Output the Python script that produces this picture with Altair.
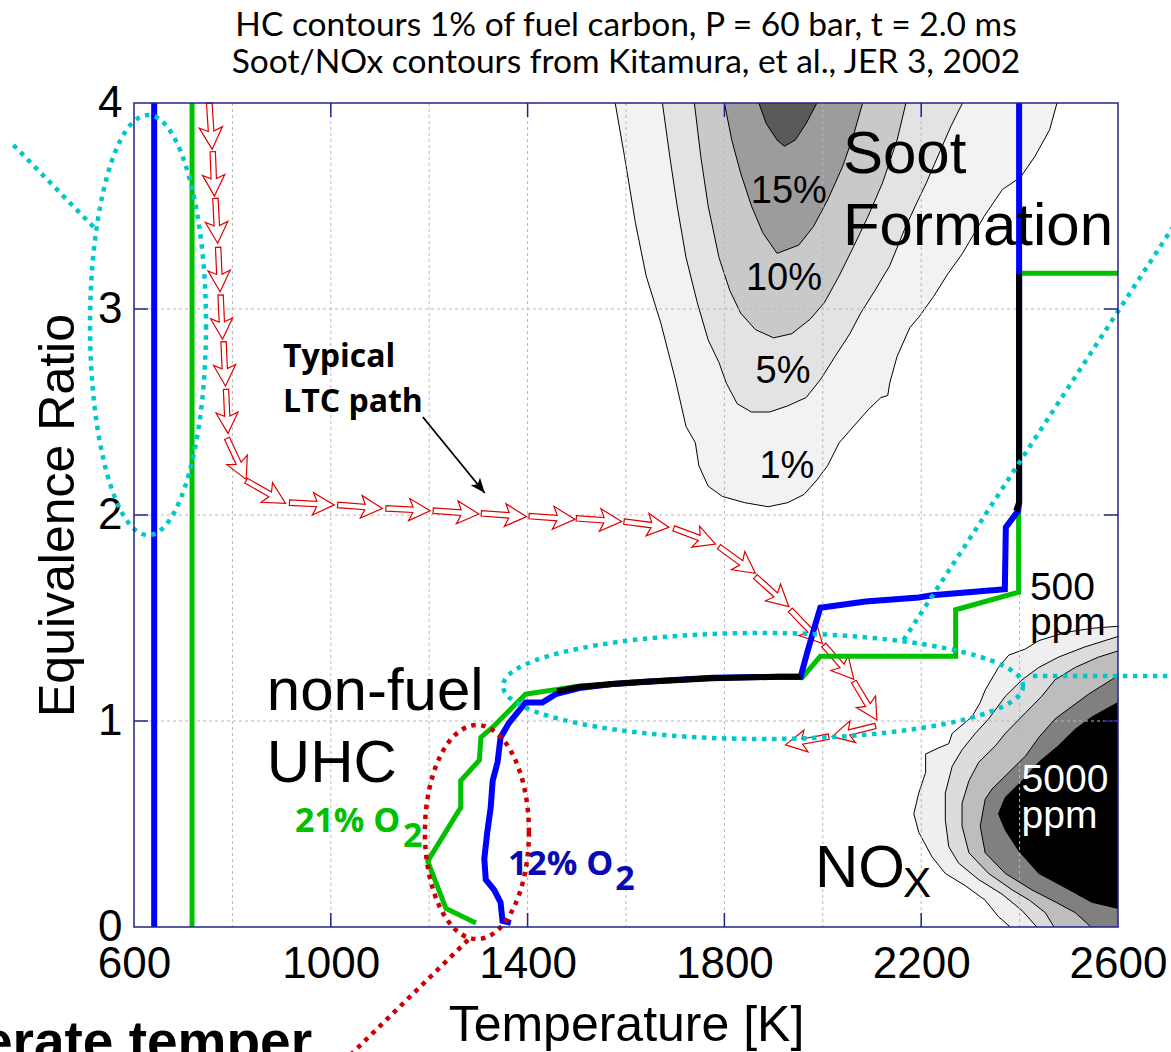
import math
import altair as alt
import pandas as pd

# ---------------- plot geometry ----------------
W, H = 984, 824
T_MIN, T_MAX = 600, 2600
PHI_MIN, PHI_MAX = 0, 4
KX = W / (T_MAX - T_MIN)      # px per K
KY = H / (PHI_MAX - PHI_MIN)  # px per unit phi

# ---------------- texts / ticks ----------------
title_lines = ["HC contours 1% of fuel carbon, P = 60 bar, t = 2.0 ms",
               "Soot/NOx contours from Kitamura, et al., JER 3, 2002"]
x_label_values = [600, 1000, 1400, 1800, 2200, 2600]
y_label_values = [0, 1, 2, 3, 4]
x_grid_values = [800, 1000, 1200, 1400, 1600, 1800, 2000, 2200, 2400]
y_grid_values = [1, 2, 3]
x_tick_values = [1000, 1400, 1800, 2200]
y_tick_values = [1, 2, 3]

# ---------------- soot contours (lower boundary, hanging from phi = 4) ----------------
soot1_T = [1578, 1597, 1619, 1641, 1671, 1700, 1722, 1741, 1748, 1767, 1796, 1841, 1889, 1929, 1962,
           1988, 2010, 2033, 2055, 2092, 2118, 2132, 2136, 2151, 2177, 2195, 2225, 2254, 2284, 2328,
           2365, 2402, 2431, 2461, 2476]
soot1_phi = [4.0, 3.74, 3.42, 3.16, 2.93, 2.66, 2.43, 2.35, 2.24, 2.14, 2.09, 2.06, 2.04, 2.06, 2.10,
             2.17, 2.24, 2.35, 2.41, 2.51, 2.57, 2.58, 2.64, 2.77, 2.91, 2.96, 3.06, 3.17, 3.27, 3.45,
             3.58, 3.64, 3.74, 3.87, 4.0]
soot5_T = [1674, 1689, 1704, 1722, 1745, 1767, 1789, 1804, 1826, 1855, 1892, 1929, 1966, 1996, 2025,
           2055, 2077, 2106, 2136, 2165, 2188, 2210, 2239, 2261, 2284]
soot5_phi = [4.0, 3.74, 3.50, 3.25, 3.03, 2.85, 2.74, 2.64, 2.54, 2.50, 2.50, 2.53, 2.57, 2.66, 2.77,
             2.88, 2.98, 3.09, 3.21, 3.38, 3.50, 3.61, 3.77, 3.89, 4.0]
soot10_T = [1739, 1752, 1767, 1789, 1811, 1833, 1863, 1900, 1937, 1974, 2003, 2033, 2062, 2092, 2121, 2151, 2169]
soot10_phi = [4.0, 3.74, 3.50, 3.25, 3.09, 2.98, 2.90, 2.86, 2.88, 2.95, 3.03, 3.16, 3.30, 3.45, 3.61, 3.82, 4.0]
soot15_T = [1800, 1815, 1833, 1855, 1878, 1907, 1951, 1981, 2010, 2040, 2062, 2081]
soot15_phi = [4.0, 3.82, 3.66, 3.50, 3.37, 3.27, 3.31, 3.40, 3.53, 3.69, 3.84, 4.0]
soot20_T = [1870, 1885, 1907, 1922, 1944, 1966, 1988]
soot20_phi = [4.0, 3.90, 3.82, 3.79, 3.82, 3.90, 4.0]
soot_fills = ["#f2f2f2", "#e3e3e3", "#c9c9c9", "#9c9c9c", "#5a5a5a"]

# ---------------- NOx contours (left boundary, from right edge) ----------------
nox1_T = [2381, 2357, 2330, 2290, 2249, 2222, 2195, 2185, 2195, 2209, 2209, 2236, 2256, 2263, 2303,
          2320, 2330, 2357, 2378, 2412, 2439, 2493, 2547, 2600]
nox1_phi = [0.0, 0.05, 0.13, 0.20, 0.26, 0.34, 0.46, 0.55, 0.65, 0.75, 0.84, 0.87, 0.89, 0.94, 1.02,
            1.09, 1.15, 1.26, 1.32, 1.35, 1.39, 1.43, 1.45, 1.46]
nox2_T = [2435, 2405, 2364, 2317, 2276, 2256, 2249, 2249, 2263, 2283, 2310, 2337, 2371, 2405, 2439, 2479, 2533, 2600]
nox2_phi = [0.0, 0.08, 0.16, 0.23, 0.31, 0.39, 0.52, 0.65, 0.78, 0.86, 0.94, 1.01, 1.12, 1.20, 1.26, 1.31, 1.36, 1.41]
nox3_T = [2470, 2452, 2420, 2385, 2337, 2297, 2283, 2283, 2297, 2317, 2351, 2371, 2412, 2445, 2472, 2513, 2560, 2600]
nox3_phi = [0.0, 0.07, 0.13, 0.18, 0.26, 0.36, 0.49, 0.60, 0.71, 0.80, 0.88, 0.94, 1.04, 1.12, 1.20, 1.26, 1.31, 1.34]
nox4_T = [2545, 2513, 2466, 2425, 2371, 2330, 2320, 2330, 2344, 2378, 2412, 2439, 2472, 2506, 2540, 2600]
nox4_phi = [0.0, 0.07, 0.13, 0.18, 0.26, 0.36, 0.49, 0.62, 0.67, 0.75, 0.83, 0.92, 1.01, 1.07, 1.13, 1.22]
nox5_T = [2600, 2547, 2486, 2439, 2398, 2371, 2357, 2371, 2405, 2439, 2479, 2513, 2547, 2600]
nox5_phi = [0.09, 0.12, 0.20, 0.26, 0.37, 0.47, 0.55, 0.63, 0.71, 0.80, 0.88, 0.96, 1.02, 1.09]
nox_fills = ["#efefef", "#dcdcdc", "#bdbdbd", "#808080", "#000000"]

# ---------------- HC 1% contours ----------------
o2_21_T = [1295, 1234, 1197, 1264, 1264, 1302, 1305, 1329, 1383, 1396, 1450, 1505, 1572, 1775, 1911,
           1958, 1995, 2270, 2270, 2398, 2398, 2600]
o2_21_phi = [0.02, 0.09, 0.32, 0.58, 0.71, 0.81, 0.92, 0.97, 1.10, 1.13, 1.15, 1.17, 1.18, 1.21, 1.215,
             1.21, 1.314, 1.314, 1.54, 1.625, 3.173, 3.173]
o2_12_T = [1366, 1349, 1345, 1332, 1315, 1312, 1318, 1325, 1329, 1339, 1345, 1362, 1396, 1430, 1457,
           1505, 1572, 1640, 1775, 1911, 1955, 1968, 1985, 1995, 2087, 2195, 2222, 2370, 2372, 2397, 2399, 2399]
o2_12_phi = [0.02, 0.03, 0.12, 0.18, 0.23, 0.33, 0.46, 0.58, 0.71, 0.80, 0.92, 0.99, 1.09, 1.09, 1.13,
             1.16, 1.18, 1.19, 1.21, 1.215, 1.215, 1.33, 1.47, 1.55, 1.58, 1.60, 1.61, 1.64, 1.94, 2.02, 2.06, 4.0]
common1_T = [1460, 1505, 1572, 1640, 1775, 1911, 1955]
common1_phi = [1.145, 1.165, 1.18, 1.19, 1.207, 1.215, 1.215]
common2_T = [2393, 2399, 2399]
common2_phi = [2.02, 2.06, 3.17]
o2_12_left_T = [641, 641]
o2_21_left_T = [718, 718]
left_phi = [0, 4]

# ---------------- typical LTC path (hollow arrows: tail -> tip) ----------------
ltc_tail_T = [753, 760, 765.5, 771, 776, 782, 787, 789, 828, 916, 1014, 1112, 1208, 1306, 1403,
              1499, 1596, 1697, 1789, 1863, 1934, 2002, 2063, 2107, 2012]
ltc_tail_phi = [4.0, 3.764, 3.537, 3.30, 3.068, 2.841, 2.61, 2.372, 2.167, 2.06, 2.049, 2.032, 2.021, 2.008, 1.995,
                1.984, 1.968, 1.935, 1.846, 1.701, 1.539, 1.369, 1.191, 0.976, 0.924]
ltc_tip_T = [759, 763.5, 770, 775, 780, 786, 791, 828, 908, 1007, 1105, 1202, 1301, 1398, 1496,
             1591, 1687, 1782, 1863, 1931, 1999, 2063, 2110, 2019, 1924]
ltc_tip_phi = [3.775, 3.548, 3.319, 3.084, 2.853, 2.626, 2.396, 2.173, 2.057, 2.049, 2.032, 2.021, 2.005, 1.992, 1.979,
               1.968, 1.94, 1.859, 1.717, 1.555, 1.377, 1.202, 1.005, 0.924, 0.884]
pointer_T = [1187, 1313]
pointer_phi = [2.476, 2.107]

# ---------------- highlight ellipses (centre, semi-axes in px) ----------------
cyan_ell_T = [628.5, 1878.5]
cyan_ell_phi = [2.922, 1.170]
cyan_ell_rx = [58, 260]
cyan_ell_ry = [210, 53]
red_ell_T = [1297]
red_ell_phi = [0.461]
red_ell_rx = [52]
red_ell_ry = [107]
cyan_seg_T1 = [355, 2164, 2427]
cyan_seg_phi1 = [3.796, 1.393, 1.218]
cyan_seg_T2 = [524, 2716, 2716]
cyan_seg_phi2 = [3.383, 3.413, 1.218]
red_seg_T1 = [1279]
red_seg_phi1 = [-0.063]
red_seg_T2 = [1029]
red_seg_phi2 = [-0.646]

# ---------------- annotation labels ----------------
plain_text = ["Soot", "Formation", "500", "ppm", "NO", "X", "non-fuel", "UHC"]
plain_T = [2041, 2041, 2421, 2421, 1984, 2163, 870, 870]
plain_phi = [3.660, 3.311, 1.587, 1.417, 0.196, 0.147, 1.053, 0.705]
plain_size = [60, 60, 39, 39, 60, 42, 60, 60]
pct_text = ["15%", "10%", "5%", "1%"]
pct_T = [1931, 1921, 1919, 1927]
pct_phi = [3.516, 3.092, 2.642, 2.180]
white_text = ["5000", "ppm"]
white_T = [2404, 2404]
white_phi = [0.657, 0.481]
green_text = ["21% O", "2"]
green_T = [927, 1147]
green_phi = [0.463, 0.390]
blue_text = ["12% O", "2"]
blue_T = [1360, 1578]
blue_phi = [0.252, 0.180]
ltc_text = ["Typical", "LTC path"]
ltc_text_T = [903, 903]
ltc_text_phi = [2.720, 2.501]
bottom_text = ["Moderate temper"]
bottom_T = [962]
bottom_phi = [-0.648]

NAVY = "#22228c"
CYAN = "#00c8c8"
DARKRED = "#cc0000"
RED = "#e00000"
GREEN = "#00c000"
BLUE = "#0000ff"

xs = alt.Scale(domain=[T_MIN, T_MAX], nice=False, zero=False)
ys = alt.Scale(domain=[PHI_MIN, PHI_MAX], nice=False, zero=False)
xaxis = alt.Axis(values=x_label_values, format="d", title="Temperature [K]",
                 labelFont="Liberation Sans", labelFontSize=44, labelColor="black",
                 labelPadding=15, ticks=False, domain=False, grid=False,
                 labelFlush=False, labelOverlap=False,
                 titleFont="Liberation Sans", titleFontSize=50, titleFontWeight="normal",
                 titleColor="black", titlePadding=14)
yaxis = alt.Axis(values=y_label_values, format="d", title="Equivalence Ratio",
                 labelFont="Liberation Sans", labelFontSize=44, labelColor="black",
                 labelPadding=12, ticks=False, domain=False, grid=False,
                 labelFlush=False, labelOverlap=False,
                 titleFont="Liberation Sans", titleFontSize=50, titleFontWeight="normal",
                 titleColor="black", titlePadding=14)


def X(f="T"):
    return alt.X(f"{f}:Q", scale=xs, axis=xaxis)


def Y(f="phi"):
    return alt.Y(f"{f}:Q", scale=ys, axis=yaxis)


def pts(T, P):
    return pd.DataFrame({"T": T, "phi": P, "i": list(range(len(T)))})


layers = []

# soot filled contours
for T, P, fill in zip([soot1_T, soot5_T, soot10_T, soot15_T, soot20_T],
                      [soot1_phi, soot5_phi, soot10_phi, soot15_phi, soot20_phi], soot_fills):
    df = pts(T, P)
    layers.append(alt.Chart(df).mark_area(color=fill, opacity=1).encode(
        x=X(), y=Y(), y2=alt.datum(PHI_MAX)))
    layers.append(alt.Chart(df).mark_line(color="black", strokeWidth=1).encode(
        x=X(), y=Y(), order="i:Q"))

# NOx filled contours
for T, P, fill in zip([nox1_T, nox2_T, nox3_T, nox4_T, nox5_T],
                      [nox1_phi, nox2_phi, nox3_phi, nox4_phi, nox5_phi], nox_fills):
    df = pts(T, P)
    layers.append(alt.Chart(df).mark_area(color=fill, opacity=1, orient="horizontal").encode(
        x=X(), x2=alt.datum(T_MAX), y=Y()))
    layers.append(alt.Chart(df).mark_line(color="black", strokeWidth=1).encode(
        x=X(), y=Y(), order="i:Q"))

# grid (drawn on top of contours)
layers.append(alt.Chart(pd.DataFrame({"T": x_grid_values})).mark_rule(
    color="#b8b8b8", strokeWidth=1, strokeDash=[3, 3]).encode(x=X()))
layers.append(alt.Chart(pd.DataFrame({"phi": y_grid_values})).mark_rule(
    color="#b8b8b8", strokeWidth=1, strokeDash=[3, 3]).encode(y=Y()))

# hollow red arrows along LTC path
ARROW = "M0,0 L-0.95,-0.5 L-0.78,-0.12 L-2,-0.12 L-2,0.12 L-0.78,0.12 L-0.95,0.5 Z"
ang, sz = [], []
for t0, p0, t1, p1 in zip(ltc_tail_T, ltc_tail_phi, ltc_tip_T, ltc_tip_phi):
    dx = (t1 - t0) * KX
    dy = -(p1 - p0) * KY
    ang.append(math.degrees(math.atan2(dy, dx)) % 360)
    sz.append(dx * dx + dy * dy)
arr_df = pd.DataFrame({"T": ltc_tip_T, "phi": ltc_tip_phi, "ang": ang, "sz": sz})
layers.append(alt.Chart(arr_df).mark_point(
    shape=ARROW, filled=True, fill="white", stroke=RED, strokeWidth=1.2, opacity=1).encode(
    x=X(), y=Y(), angle=alt.Angle("ang:Q", scale=None), size=alt.Size("sz:Q", scale=None)))

# HC contour lines
for T, P, col, w in [(o2_21_left_T, left_phi, GREEN, 5), (o2_12_left_T, left_phi, BLUE, 6),
                     (o2_21_T, o2_21_phi, GREEN, 5), (o2_12_T, o2_12_phi, BLUE, 6),
                     (common1_T, common1_phi, "black", 6), (common2_T, common2_phi, "black", 6)]:
    layers.append(alt.Chart(pts(T, P)).mark_line(color=col, strokeWidth=w, strokeCap="butt").encode(
        x=X(), y=Y(), order="i:Q"))

# pointer arrow for "Typical LTC path"
pdx = (pointer_T[1] - pointer_T[0]) * KX
pdy = -(pointer_phi[1] - pointer_phi[0]) * KY
pang = math.degrees(math.atan2(pdy, pdx)) % 360
ptr_df = pd.DataFrame({"T": [pointer_T[0]], "phi": [pointer_phi[0]],
                       "T2": [pointer_T[1]], "phi2": [pointer_phi[1]]})
layers.append(alt.Chart(ptr_df).mark_rule(color="black", strokeWidth=1.8).encode(
    x=X(), y=Y(), x2="T2:Q", y2="phi2:Q"))
layers.append(alt.Chart(pd.DataFrame({"T": [pointer_T[1]], "phi": [pointer_phi[1]], "ang": [pang]})).mark_point(
    shape="M0,0 L-2,-0.8 L-1.5,0 L-2,0.8 Z", filled=True, color="black", size=225, opacity=1).encode(
    x=X(), y=Y(), angle=alt.Angle("ang:Q", scale=None)))


def text_layer(texts, T, P, color, font, weight, size, align="left"):
    df = pd.DataFrame({"text": texts, "T": T, "phi": P})
    return alt.Chart(df).mark_text(color=color, font=font, fontWeight=weight, fontSize=size,
                                   align=align, baseline="alphabetic").encode(
        x=X(), y=Y(), text="text:N")


pl_df = pd.DataFrame({"text": plain_text, "T": plain_T, "phi": plain_phi, "fs": plain_size})
layers.append(alt.Chart(pl_df).mark_text(color="black", font="Liberation Sans", align="left",
                                         baseline="alphabetic").encode(
    x=X(), y=Y(), text="text:N", size=alt.Size("fs:Q", scale=None)))
layers.append(text_layer(pct_text, pct_T, pct_phi, "black", "Liberation Sans", "normal", 38, "center"))
layers.append(text_layer(white_text, white_T, white_phi, "white", "Liberation Sans", "normal", 39))
layers.append(text_layer(green_text, green_T, green_phi, GREEN, "Open Sans", "bold", 34))
layers.append(text_layer(blue_text, blue_T, blue_phi, "#0a0ab4", "Open Sans", "bold", 34))
layers.append(text_layer(ltc_text, ltc_text_T, ltc_text_phi, "black", "Open Sans", "bold", 32))
layers.append(text_layer(bottom_text, bottom_T, bottom_phi, "black", "Liberation Sans", "bold", 55, "right"))


def ellipse_path(rx, ry):
    k = 0.5523
    return (f"M{rx:.2f},0 C{rx:.2f},{k*ry:.2f} {k*rx:.2f},{ry:.2f} 0,{ry:.2f} "
            f"C{-k*rx:.2f},{ry:.2f} {-rx:.2f},{k*ry:.2f} {-rx:.2f},0 "
            f"C{-rx:.2f},{-k*ry:.2f} {-k*rx:.2f},{-ry:.2f} 0,{-ry:.2f} "
            f"C{k*rx:.2f},{-ry:.2f} {rx:.2f},{-k*ry:.2f} {rx:.2f},0 Z")


for T, P, rx, ry in zip(cyan_ell_T, cyan_ell_phi, cyan_ell_rx, cyan_ell_ry):
    layers.append(alt.Chart(pd.DataFrame({"T": [T], "phi": [P]})).mark_point(
        shape=ellipse_path(rx, ry), size=4, filled=False, color=CYAN, strokeWidth=4.5,
        strokeDash=[4.5, 5.5], opacity=1).encode(x=X(), y=Y()))
for T, P, rx, ry in zip(red_ell_T, red_ell_phi, red_ell_rx, red_ell_ry):
    layers.append(alt.Chart(pd.DataFrame({"T": [T], "phi": [P]})).mark_point(
        shape=ellipse_path(rx, ry), size=4, filled=False, color=DARKRED, strokeWidth=4.5,
        strokeDash=[4.5, 5.5], opacity=1).encode(x=X(), y=Y()))

seg_c = pd.DataFrame({"T": cyan_seg_T1, "phi": cyan_seg_phi1, "T2": cyan_seg_T2, "phi2": cyan_seg_phi2})
layers.append(alt.Chart(seg_c).mark_rule(color=CYAN, strokeWidth=4.5, strokeDash=[4.5, 5.5]).encode(
    x=X(), y=Y(), x2="T2:Q", y2="phi2:Q"))
seg_r = pd.DataFrame({"T": red_seg_T1, "phi": red_seg_phi1, "T2": red_seg_T2, "phi2": red_seg_phi2})
layers.append(alt.Chart(seg_r).mark_rule(color=DARKRED, strokeWidth=4.5, strokeDash=[4.5, 5.5]).encode(
    x=X(), y=Y(), x2="T2:Q", y2="phi2:Q"))

# inward ticks and frame
xt = pd.DataFrame({"T": x_tick_values})
yt = pd.DataFrame({"phi": y_tick_values})
layers.append(alt.Chart(xt).mark_rule(color=NAVY, strokeWidth=1.5).encode(
    x=X(), y=alt.value(H), y2=alt.value(H - 14)))
layers.append(alt.Chart(xt).mark_rule(color=NAVY, strokeWidth=1.5).encode(
    x=X(), y=alt.value(0), y2=alt.value(14)))
layers.append(alt.Chart(yt).mark_rule(color=NAVY, strokeWidth=1.5).encode(
    y=Y(), x=alt.value(0), x2=alt.value(14)))
layers.append(alt.Chart(yt).mark_rule(color=NAVY, strokeWidth=1.5).encode(
    y=Y(), x=alt.value(W), x2=alt.value(W - 14)))
layers.append(alt.Chart(pd.DataFrame({"a": [0]})).mark_rect(
    filled=False, stroke=NAVY, strokeWidth=1.5, fillOpacity=0).encode(
    x=alt.value(0), x2=alt.value(W), y=alt.value(0), y2=alt.value(H)))

chart = alt.layer(*layers).properties(
    width=W, height=H,
    title=alt.Title(text=title_lines, font="Lato", fontSize=33.5, fontWeight="normal",
                    color="black", anchor="middle", offset=1, lineHeight=37),
    padding={"left": 134, "right": 53, "top": 103, "bottom": 125},
    autosize=alt.AutoSizeParams(type="none"),
).configure_view(stroke=None)

chart.save("out.html", embed_options={"renderer": "svg", "actions": False})
